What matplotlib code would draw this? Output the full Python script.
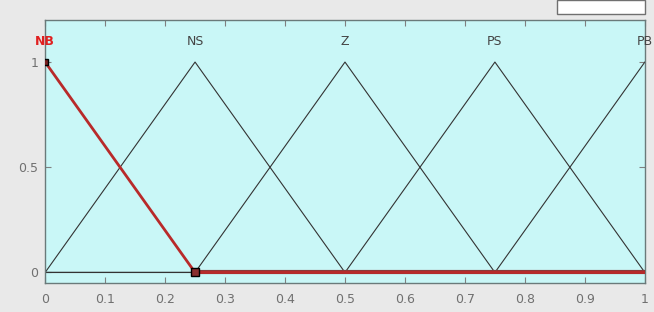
import numpy as np
import matplotlib.pyplot as plt
from matplotlib.patches import Rectangle

# membership functions (trimf a, b, c) on input range [0, 1]
mf_names = ['NB', 'NS', 'Z', 'PS', 'PB']
mf_params = [
    [-0.25, 0.0, 0.25],
    [0.0, 0.25, 0.5],
    [0.25, 0.5, 0.75],
    [0.5, 0.75, 1.0],
    [0.75, 1.0, 1.25],
]
selected = 'NB'
x_ticks = [0, 0.1, 0.2, 0.3, 0.4, 0.5, 0.6, 0.7, 0.8, 0.9, 1]
x_labels = ['0', '0.1', '0.2', '0.3', '0.4', '0.5', '0.6', '0.7', '0.8', '0.9', '1']
y_ticks = [0, 0.5, 1]
y_labels = ['0', '0.5', '1']

fig = plt.figure(figsize=(6.54, 3.12), dpi=100)
fig.patch.set_facecolor('#e9e9e9')
ax = fig.add_axes([0.069, 0.093, 0.917, 0.843])
ax.set_facecolor('#c9f7f7')

for name, (a, b, c) in zip(mf_names, mf_params):
    xs = np.unique(np.clip([0, a, b, c, 1], 0, 1))
    ys = np.interp(xs, [a, b, c], [0, 1, 0], left=0, right=0)
    if name == selected:
        # zero part drawn thick, falling edge in red
        ax.plot(xs, ys, color='#b82a2a', lw=2.0, zorder=4)
        zx = xs[ys == 0]
        ax.plot([zx.min(), 1], [0, 0], color='#8a3a3a', lw=3.0, zorder=3)
        ax.plot([b], [1], marker='s', ms=4, mfc='#7a2020', mec='black', zorder=5)
        ax.plot([c], [0], marker='s', ms=6, mfc='#8a3030', mec='black', zorder=5)
        ax.text(b, 1.10, name, color='#e02020', fontsize=9, fontweight='bold',
                ha='center', va='center')
    else:
        ax.plot(xs, ys, color='#333333', lw=0.8, zorder=2)
        ax.text(b, 1.10, name, color='#444444', fontsize=9, ha='center', va='center')

ax.set_xlim(0, 1)
ax.set_ylim(-0.05, 1.2)
ax.set_xticks(x_ticks)
ax.set_xticklabels(x_labels)
ax.set_yticks(y_ticks)
ax.set_yticklabels(y_labels)
ax.tick_params(direction='in', length=4, colors='#808080', labelcolor='#707070',
               labelsize=9, top=True, right=True, pad=5)
ax.tick_params(axis='x', pad=7)
for s in ax.spines.values():
    s.set_color('#6a7a7a')
    s.set_linewidth(1.0)

# bit of the white control box above the axes
fig.patches.append(Rectangle((557 / 654, 1 - 14 / 312), 88 / 654, 14 / 312,
                             transform=fig.transFigure, facecolor='white',
                             edgecolor='#707070', lw=1.0))

fig.savefig('out.png', dpi=100, facecolor=fig.get_facecolor())
